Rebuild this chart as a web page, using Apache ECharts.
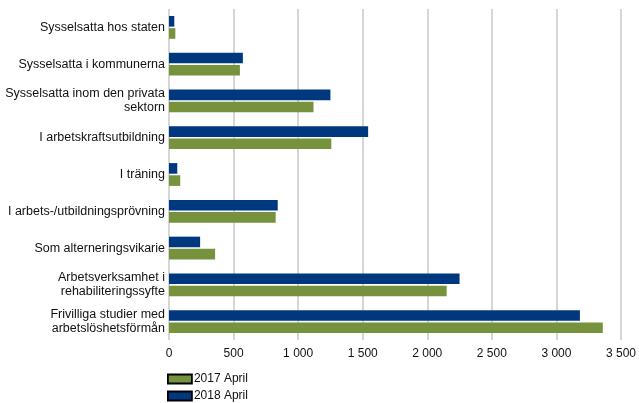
<!DOCTYPE html>
<html><head><meta charset="utf-8">
<script src="https://cdn.jsdelivr.net/npm/echarts@6/dist/echarts.min.js"></script>
<style>html,body{margin:0;padding:0;background:#fff}#c{width:639px;height:403px}</style>
</head><body><div id="c"></div>
<script>
var categories = [
  'Sysselsatta hos staten',
  'Sysselsatta i kommunerna',
  'Sysselsatta inom den privata\nsektorn',
  'I arbetskraftsutbildning',
  'I träning',
  'I arbets-/utbildningsprövning',
  'Som alterneringsvikarie',
  'Arbetsverksamhet i\nrehabiliteringssyfte',
  'Frivilliga studier med\narbetslöshetsförmån'
];
var values2017 = [49, 549, 1119, 1257, 87, 826, 357, 2150, 3359];
var values2018 = [41, 572, 1250, 1542, 64, 842, 241, 2250, 3182];
var xTicks = [0, 500, 1000, 1500, 2000, 2500, 3000, 3500];

function fmt(v){ return String(v).replace(/\B(?=(\d{3})+(?!\d))/g, ' '); }

var chart = echarts.init(document.getElementById('c'));
var FONT = 'Liberation Sans, Arial, sans-serif';
chart.setOption({
  animation: false,
  textStyle: {fontFamily: FONT},
  grid: {left: 169, right: 15, top: 9, bottom: 63, containLabel: false},
  legend: {
    orient: 'vertical', left: 167, top: 372, height: 34, padding: 0,
    itemWidth: 24, itemHeight: 9, itemGap: 3,
    data: ['2017 April', '2018 April'],
    textStyle: {fontSize: 12, color: '#111', fontFamily: FONT, lineHeight: 14, padding: [0,0,0,-3]},
    icon: 'rect',
    itemStyle: {borderColor: '#000', borderWidth: 1.8}
  },
  xAxis: {
    type: 'value', min: xTicks[0], max: xTicks[xTicks.length - 1], interval: xTicks[1] - xTicks[0],
    axisLine: {show: false}, axisTick: {show: false},
    splitLine: {lineStyle: {color: '#c8c8c8', width: 1.5}},
    axisLabel: {fontSize: 12, color: '#111', margin: 8, formatter: function(v){ return fmt(v); }}
  },
  yAxis: {
    type: 'category', data: categories, inverse: true,
    axisLine: {show: false}, axisTick: {show: false},
    axisLabel: {fontSize: 12.5, color: '#111', margin: 4, lineHeight: 14, align: 'right'}
  },
  series: [
    {name: '2018 April', type: 'bar', data: values2018, barCategoryGap: '38%', barGap: '15%',
     itemStyle: {color: '#00387f'}},
    {name: '2017 April', type: 'bar', data: values2017, barCategoryGap: '38%', barGap: '15%',
     itemStyle: {color: '#76923c'}}
  ]
});
</script></body></html>
